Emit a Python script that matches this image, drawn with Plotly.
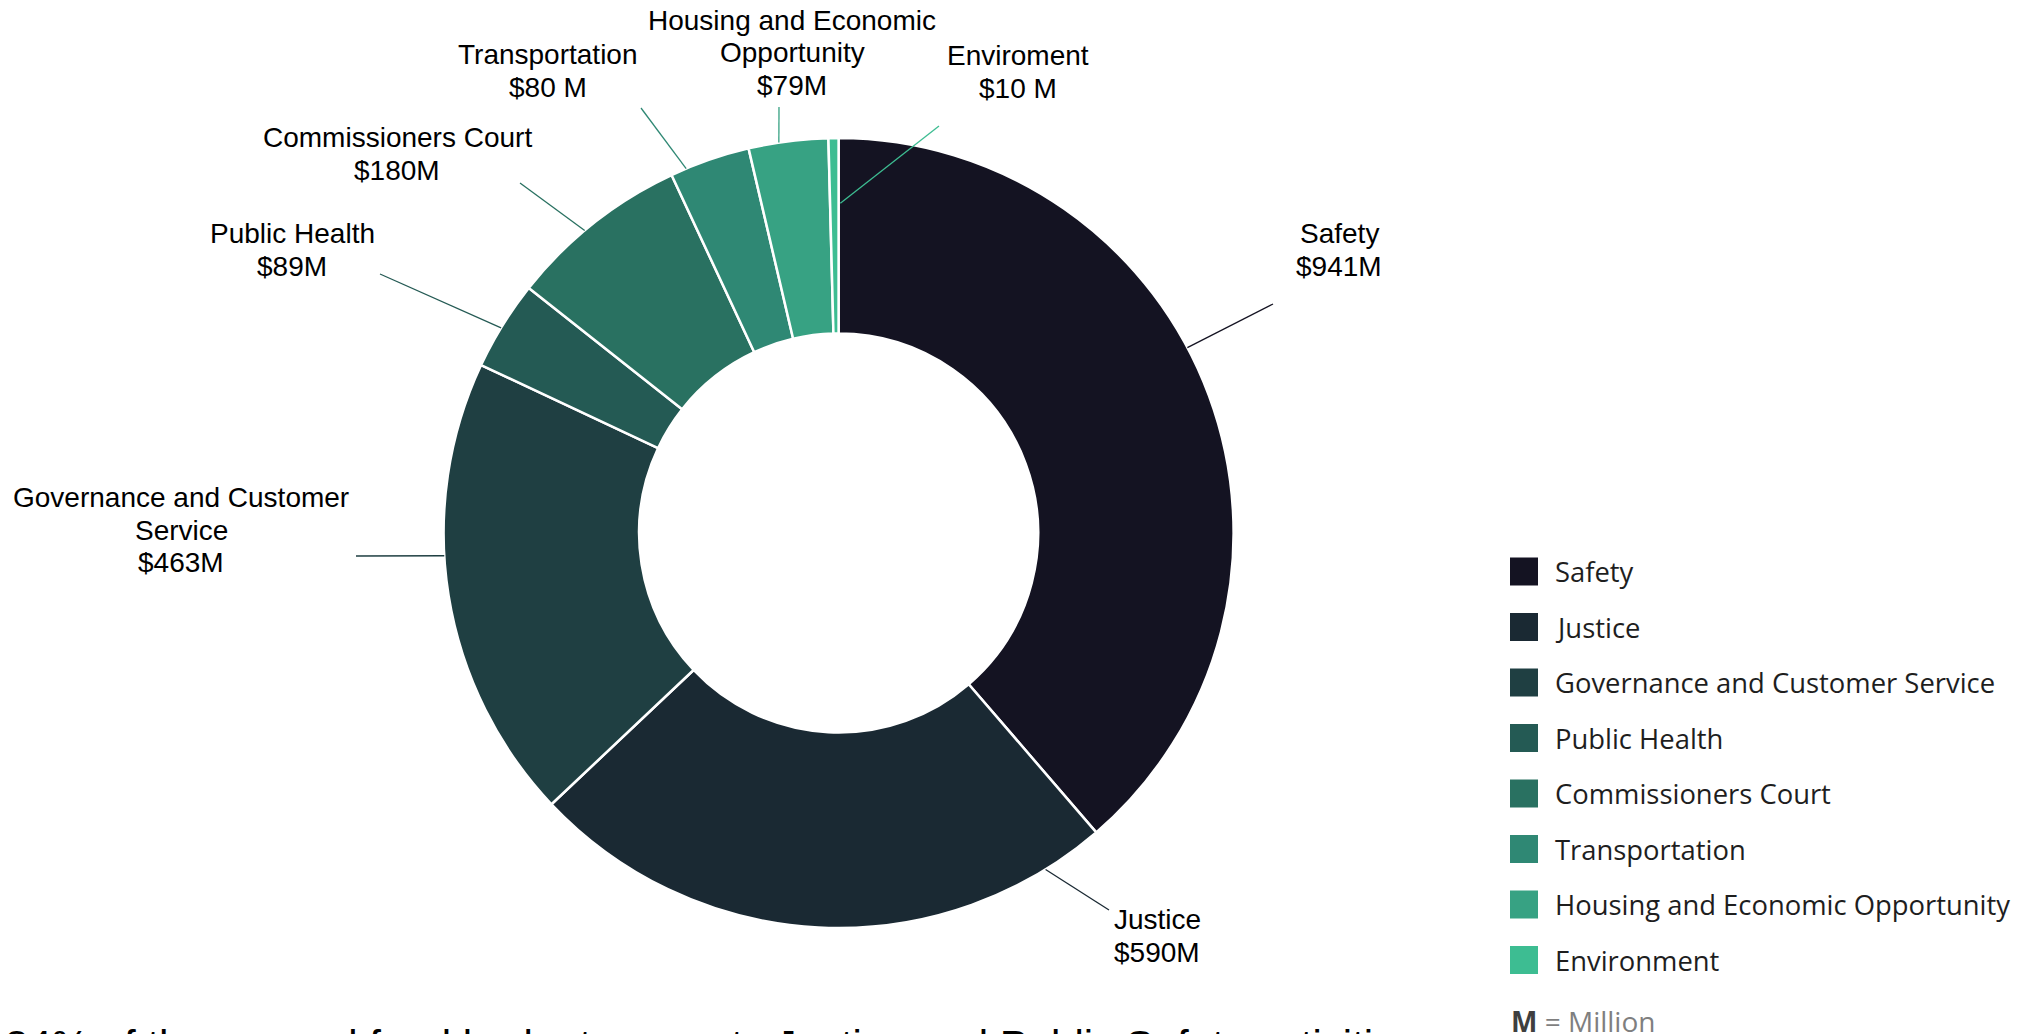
import math
import plotly.graph_objects as go

# ---------------- data ----------------
categories = [
    "Safety",
    "Justice",
    "Governance and Customer Service",
    "Public Health",
    "Commissioners Court",
    "Transportation",
    "Housing and Economic Opportunity",
    "Environment",
]
budget_musd = [941, 590, 463, 89, 180, 80, 79, 10]
callout_names = [
    "Safety",
    "Justice",
    "Governance and Customer<br>Service",
    "Public Health",
    "Commissioners Court",
    "Transportation",
    "Housing and Economic<br>Opportunity",
    "Enviroment",
]
callout_unit = ["M", "M", "M", "M", "M", " M", "M", " M"]
slice_colors = ["#141322", "#1a2933", "#1f3f42", "#245a54", "#297161", "#2f8874", "#37a283", "#3dbd92"]

footnote_text = "84% of the general fund budget supports Justice and Public Safety activities"
unit_note = ("<span style='color:#3f3f3f'><b>M</b></span>"
             "<span style='color:#7f7f7f'> = Million</span>")

# ---------------- layout geometry (pixels) ----------------
W, H = 2039, 1034
CX, CY, R = 838.6, 533.0, 395.0
HOLE = 0.505

# (angle clockwise from 12 o'clock, radius fraction, leader end px, label centre px)
callout_layout = [
    (62.0, 1.0, (1273, 304), (1339, 250)),
    (148.4, 1.0, (1109, 910), (1157, 936)),
    (266.7, 1.0, (356, 556), (181, 530)),
    (301.3, 1.0, (380, 274), (292, 250)),
    (320.0, 1.0, (520, 183), (397, 154)),
    (337.3, 1.0, (641, 108), (548, 71)),
    (351.3, 1.0, (779, 107), (792, 53)),
    (0.3, 0.835, (939, 126), (1018, 72)),
]
LINE_STEP = 32.5
LABEL_FONT = dict(family="Liberation Sans, Arial, sans-serif", size=28, color="#000000")

LEG_SQ_X0, LEG_SQ_SIZE = 1510, 28
LEG_TEXT_X = 1553
LEG_Y0, LEG_STEP = 571.5, 55.5
LEG_FONT = dict(family="Open Sans, sans-serif", size=27.4, color="#1e1e1e")


def px(x):
    return x / W


def py(y):
    return 1 - y / H


fig = go.Figure()
fig.add_trace(go.Pie(
    labels=categories,
    values=budget_musd,
    sort=False,
    direction="clockwise",
    rotation=0,
    hole=HOLE,
    textinfo="none",
    hovertemplate="%{label}: $%{value}M<extra></extra>",
    marker=dict(colors=slice_colors, line=dict(color="#ffffff", width=2.5)),
    domain=dict(x=[px(CX - R), px(CX + R)], y=[py(CY + R), py(CY - R)]),
    showlegend=False,
))

shapes = []
annotations = []

# callouts with leader lines
for name, unit, val, col, (ang, rf, (ex, ey), (lx, ly)) in zip(
        callout_names, callout_unit, budget_musd, slice_colors, callout_layout):
    a = math.radians(ang)
    sx = CX + R * rf * math.sin(a)
    sy = CY - R * rf * math.cos(a)
    shapes.append(dict(type="line", xref="paper", yref="paper",
                       x0=px(sx), y0=py(sy), x1=px(ex), y1=py(ey),
                       line=dict(color=col, width=1.3)))
    lines = name.split("<br>") + [f"${val}{unit}"]
    n = len(lines)
    for i, t in enumerate(lines):
        yy = ly + (i - (n - 1) / 2) * LINE_STEP
        annotations.append(dict(text=t, x=px(lx), y=py(yy), xref="paper", yref="paper",
                                xanchor="center", yanchor="middle", showarrow=False,
                                font=LABEL_FONT))

# custom legend
for i, (cat, col) in enumerate(zip(categories, slice_colors)):
    yc = LEG_Y0 + i * LEG_STEP
    shapes.append(dict(type="rect", xref="paper", yref="paper",
                       x0=px(LEG_SQ_X0), x1=px(LEG_SQ_X0 + LEG_SQ_SIZE),
                       y0=py(yc + LEG_SQ_SIZE / 2), y1=py(yc - LEG_SQ_SIZE / 2),
                       fillcolor=col, line=dict(width=0)))
    annotations.append(dict(text=cat, x=px(LEG_TEXT_X), y=py(yc), xref="paper", yref="paper",
                            xanchor="left", yanchor="middle", showarrow=False, font=LEG_FONT))

annotations.append(dict(text=unit_note, x=px(1509), y=py(1021), xref="paper", yref="paper",
                        xanchor="left", yanchor="middle", showarrow=False,
                        font=dict(family="Open Sans, sans-serif", size=28, color="#7f7f7f")))

annotations.append(dict(text=footnote_text, x=px(3), y=py(1045), xref="paper", yref="paper",
                        xanchor="left", yanchor="middle", showarrow=False,
                        font=dict(family="Liberation Sans, Arial, sans-serif", size=42, color="#000000")))

fig.update_layout(
    width=W, height=H,
    margin=dict(l=0, r=0, t=0, b=0),
    paper_bgcolor="#ffffff",
    plot_bgcolor="#ffffff",
    shapes=shapes,
    annotations=annotations,
    showlegend=False,
)

fig.write_html("out.html", config={"displayModeBar": False},
               post_script="document.body.style.margin='0';document.body.style.overflow='hidden';")
